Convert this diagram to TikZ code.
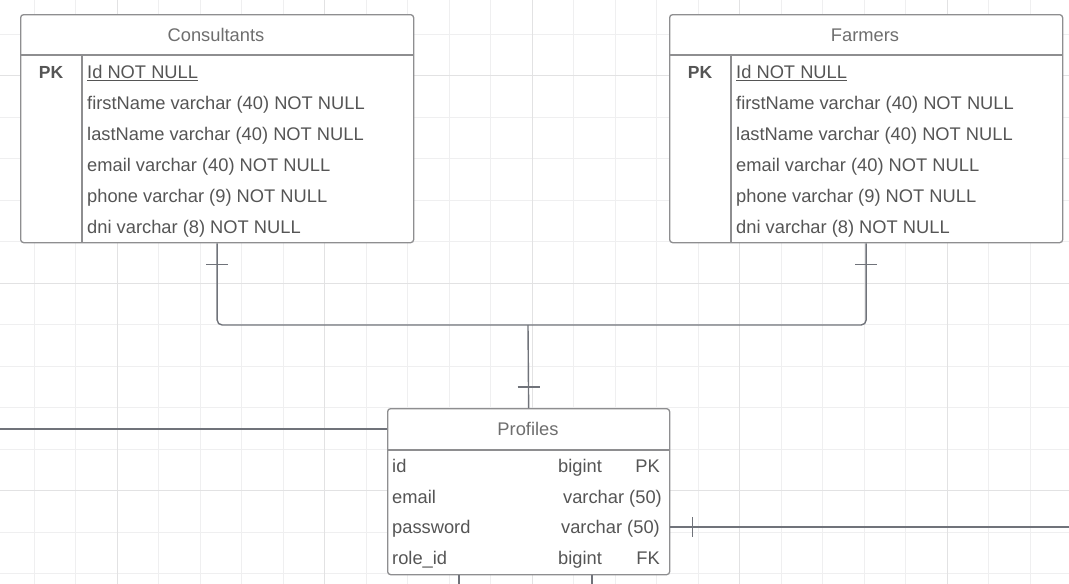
\documentclass[tikz,border=0pt]{standalone}
\usepackage{fontspec}
\setmainfont{Liberation Sans}
\definecolor{gridminor}{HTML}{EFEFF0}
\definecolor{gridmajor}{HTML}{E2E2E3}
\definecolor{linegray}{HTML}{70737A}
\definecolor{boxgray}{HTML}{8E8E90}
\definecolor{textgray}{HTML}{555555}
\begin{document}
\begin{tikzpicture} [x=1pt,y=-1pt,
    tbl/.style={draw=boxgray,fill=white,line width=1.3pt,rounded corners=3pt,anchor=north west,inner sep=0},
    fld/.style={text=textgray,font=\fontsize{18.3}{20}\selectfont,inner sep=0,text height=13pt,text depth=0pt,anchor=west},
    rel/.style={draw=linegray,line width=1.4pt}]
\useasboundingbox (0,0) rectangle (1069,584);
%grid
\foreach \i in {0,...,24} \draw [gridminor,line width=1pt] (34+41.5*\i,0) -- (34+41.5*\i,584);
\foreach \i in {0,...,13} \draw [gridminor,line width=1pt] (0,34+41.5*\i) -- (1069,34+41.5*\i);
\foreach \i in {2,7,12,17,22} \draw [gridmajor,line width=1pt] (34+41.5*\i,0) -- (34+41.5*\i,584);
\foreach \i in {1,6,11} \draw [gridmajor,line width=1pt] (0,34+41.5*\i) -- (1069,34+41.5*\i);
%tables
\foreach \tb/\x/\name in {cons/20/Consultants, farm/669/Farmers} {
    \node[tbl,minimum width=393pt,minimum height=228pt] (\tb) at (\x,14) {};
    \draw [boxgray,line width=1.3pt] ([shift={(0,41)}]\tb.north west) -- ([shift={(0,41)}]\tb.north east);
    \draw [boxgray,line width=1.3pt] ([shift={(62,41)}]\tb.north west) -- ([shift={(62,0)}]\tb.south west);
    \node[fld,anchor=center,text=textgray!85] (\tb T) at (\x+196,35) {\name};
    \node[fld,anchor=center,font=\fontsize{17.5}{20}\selectfont\bfseries] (\tb PK) at (\x+31,72) {PK};
    \node[fld] (\tb 0) at (\x+67,72) {\underline{Id NOT NULL}};
    \foreach \t [count=\k] in {{firstName varchar (40) NOT NULL},{lastName varchar (40) NOT NULL},
        {email varchar (40) NOT NULL},{phone varchar (9) NOT NULL},{dni varchar (8) NOT NULL}}
        \node[fld] (\tb\k) at (\x+67,72+30.9*\k) {\t};
}
\node[tbl,minimum width=282pt,minimum height=166pt] (prof) at (387,408) {};
\draw [boxgray,line width=1.3pt] ([shift={(0,42)}]prof.north west) -- ([shift={(0,42)}]prof.north east);
\node[fld,anchor=center,text=textgray!85] (profT) at (528,429) {Profiles};
\node[fld] (p1) at (392,466) {id};
\node[fld] (p1t) at (558,466) {bigint};
\node[fld,anchor=east] (p1k) at (660,466) {PK};
\node[fld] (p2) at (392,497) {email};
\node[fld,anchor=east] (p2t) at (662,497) {varchar (50)};
\node[fld] (p3) at (392,527) {password};
\node[fld,anchor=east] (p3t) at (660,527) {varchar (50)};
\node[fld] (p4) at (392,558) {role\_id};
\node[fld] (p4t) at (558,558) {bigint};
\node[fld,anchor=east] (p4k) at (660,558) {FK};
%relations
\coordinate (jn) at (528,325);
\coordinate (lft) at (0,429);
\coordinate (pwR) at (prof.east |- p3);
\coordinate (rgt) at (1069,527);
\coordinate (d1) at (459,584);
\coordinate (d2) at (592,584);
\draw [rel,rounded corners=5pt] (cons.south) |- (jn) -| (farm.south);
\draw [rel] (jn) -- (prof.north);
\draw [rel] ([shift={(-11,21)}]cons.south) -- ++(22,0);
\draw [rel] ([shift={(-11,21)}]farm.south) -- ++(22,0);
\draw [rel] ([shift={(-11,-21)}]prof.north) -- ++(22,0);
\draw [rel] (profT -| prof.west) -- (lft);
\draw [rel] (pwR) -- (rgt);
\draw [rel] ([shift={(22,-10)}]pwR) -- ++(0,20);
\draw [rel] (d1 |- prof.south) -- (d1);
\draw [rel] (d2 |- prof.south) -- (d2);
\end{tikzpicture}
\end{document}
